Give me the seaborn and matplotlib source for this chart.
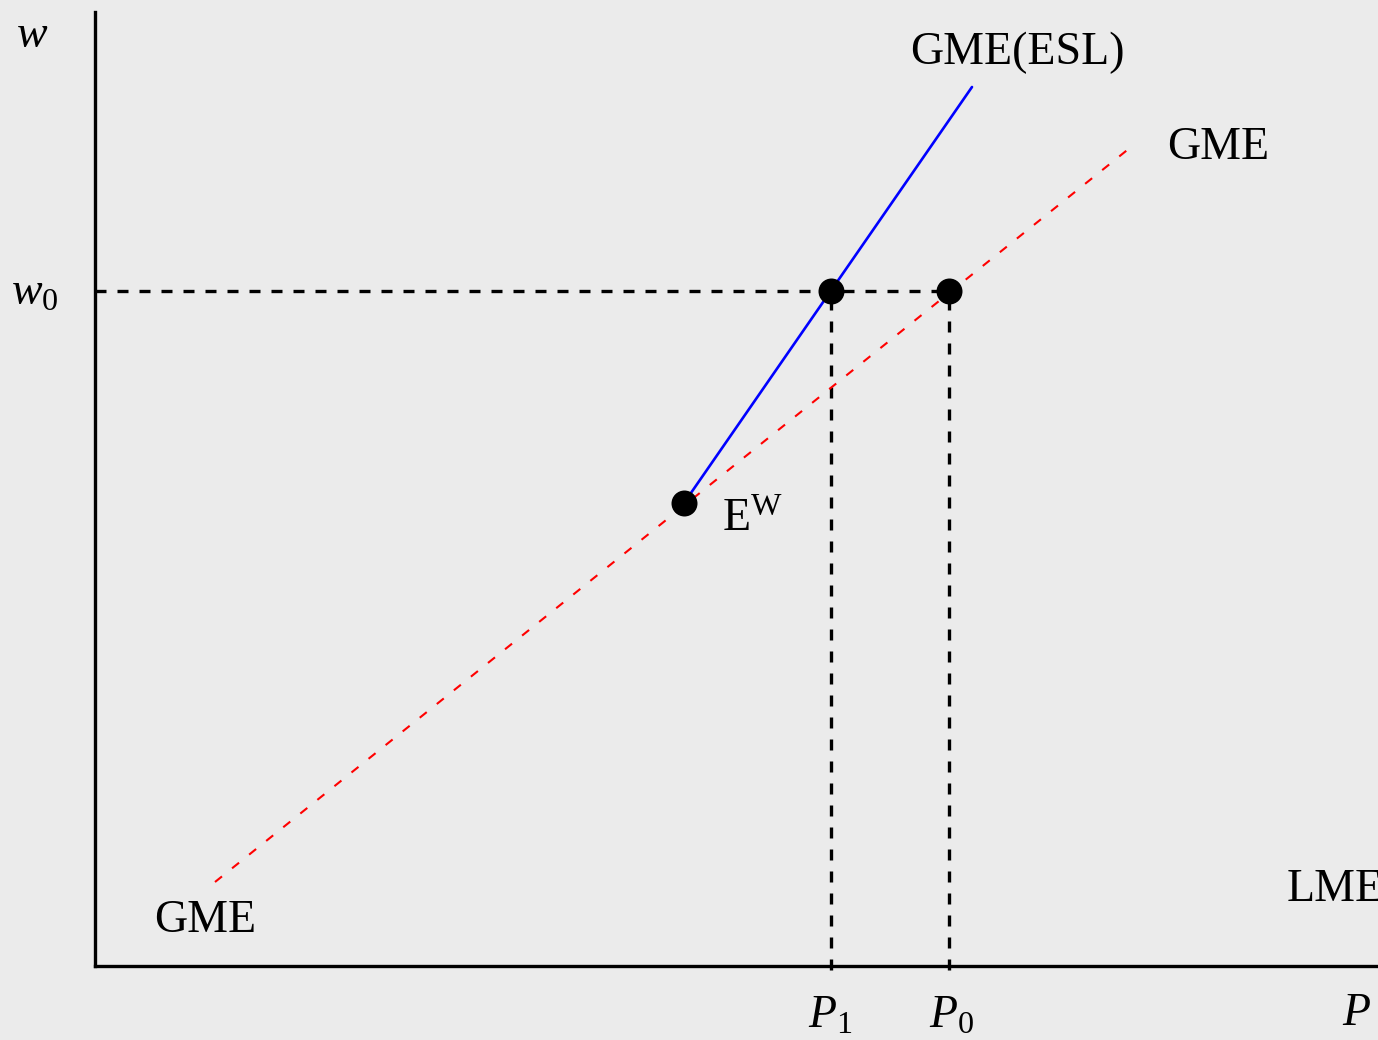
import matplotlib
matplotlib.use("Agg")
import matplotlib.pyplot as plt
import seaborn as sns
import pandas as pd

# Equilibrium points: E^w, the wage w0 on the GME(ESL) schedule (P1) and on GME (P0)
point_names = ["Ew", "A", "B"]
point_x = [5.89, 7.36, 8.54]
point_y = [4.63, 6.75, 6.75]

# GME schedule (red dashed) endpoints
gme_x = [1.20, 10.36]
gme_y = [0.84, 8.19]

# GME(ESL) schedule (blue) endpoints
esl_x = [5.89, 8.77]
esl_y = [4.63, 8.79]

w0 = 6.75
p1 = 7.36
p0 = 8.54

BG = "#ebebeb"
sns.set_theme(style="white", rc={"axes.facecolor": BG, "figure.facecolor": BG})
plt.rcParams["font.family"] = ["Liberation Serif", "DejaVu Serif"]
plt.rcParams["mathtext.fontset"] = "custom"
plt.rcParams["mathtext.rm"] = "Liberation Serif"
plt.rcParams["mathtext.it"] = "Liberation Serif:italic"

fig = plt.figure(figsize=(13.78, 10.40), dpi=100)
ax = fig.add_axes([95 / 1378, 74 / 1040, 1283 / 1378, 954 / 1040])
ax.set_xlim(0, 12.83)
ax.set_ylim(0, 9.54)

# guide lines at w0, P1, P0
dash_kw = dict(color="black", lw=2.4, dashes=(3.3, 3.3), clip_on=False)
ax.plot([0, p0], [w0, w0], **dash_kw)
ax.plot([p1, p1], [-0.04, w0], **dash_kw)
ax.plot([p0, p0], [-0.04, w0], **dash_kw)

sns.lineplot(x=gme_x, y=gme_y, ax=ax, color="red", lw=1.5,
             linestyle=(0, (4.3, 6.2)))
sns.lineplot(x=esl_x, y=esl_y, ax=ax, color="blue", lw=1.9)

pts = pd.DataFrame({"name": point_names, "x": point_x, "y": point_y})
sns.scatterplot(data=pts, x="x", y="y", ax=ax, color="black", s=300,
                edgecolor="black", zorder=5, clip_on=False)

for side in ["top", "right"]:
    ax.spines[side].set_visible(False)
for side in ["left", "bottom"]:
    ax.spines[side].set_color("black")
    ax.spines[side].set_linewidth(2.4)
ax.set_xticks([])
ax.set_yticks([])
ax.set_xlabel("")
ax.set_ylabel("")

fs = 33
tkw = dict(ha="center", va="center", fontsize=fs, clip_on=False, color="black")
ax.text(-0.63, 9.30, r"$w$", **tkw)
ax.text(-0.60, 6.73, r"$w_0$", **tkw)
ax.text(7.35, -0.50, r"$P_1$", **tkw)
ax.text(8.57, -0.50, r"$P_0$", **tkw)
ax.text(12.62, -0.48, r"$P$", **tkw)
ax.text(9.22, 9.13, "GME(ESL)", **tkw)
ax.text(11.23, 8.18, "GME", **tkw)
ax.text(1.10, 0.45, "GME", **tkw)
ax.text(6.57, 4.46, r"$\mathrm{E}^{\mathrm{W}}$", **tkw)
ax.text(11.92, 0.76, "LME", ha="left", va="center", fontsize=fs,
        color="black", clip_on=False)

fig.savefig("out.png", dpi=100, facecolor=BG)
